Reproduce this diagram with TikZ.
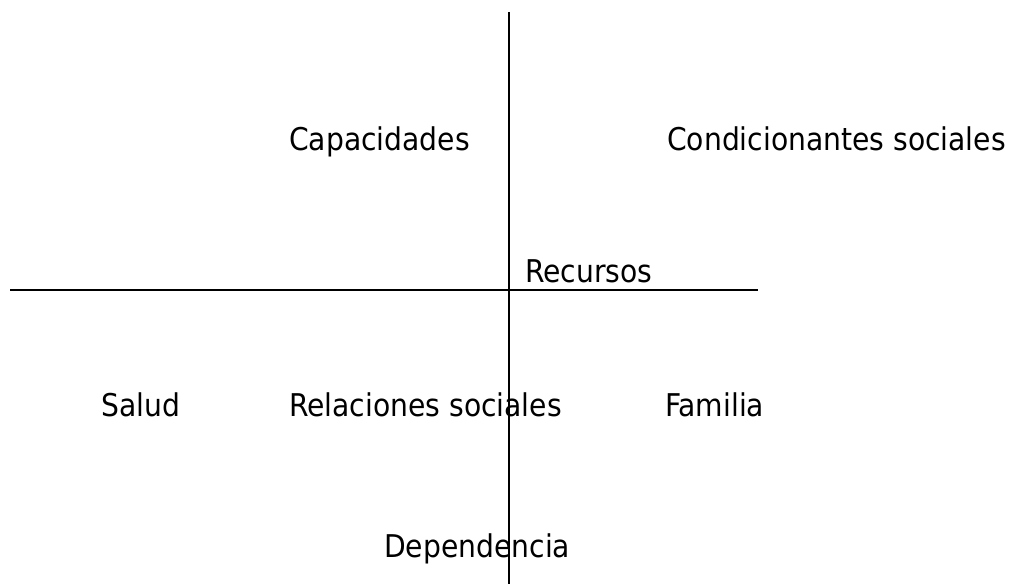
\documentclass[tikz,border=0pt]{standalone}
\usepackage{fontspec}
\setmainfont{DejaVu Sans Condensed}
\begin{document}
\begin{tikzpicture}[x=0.75pt,y=-0.75pt,
  lbl/.style={anchor=base west,inner sep=0pt,font=\fontsize{23.5}{28}\selectfont},
  axis/.style={draw=black,line width=1.1pt}]
\useasboundingbox (0,0) rectangle (1016,584);
\coordinate (vtop) at (509,12);
\coordinate (vbot) at (509,584);
\coordinate (hleft) at (10,290);
\coordinate (hright) at (758,290);
\draw[axis] (vtop) -- (vbot);
\draw[axis] (hleft) -- (hright);
\node[lbl] (cap) at (289,151) {Capacidades};
\node[lbl] (cond) at (667,151) {Condicionantes sociales};
\node[lbl] (rec) at (525,282) {Recursos};
\node[lbl] (sal) at (101,416) {Salud};
\node[lbl] (rel) at (289,416) {Relaciones sociales};
\node[lbl] (fam) at (665,416) {Familia};
\node[lbl] (dep) at (384,557) {Dependencia};
\end{tikzpicture}
\end{document}
